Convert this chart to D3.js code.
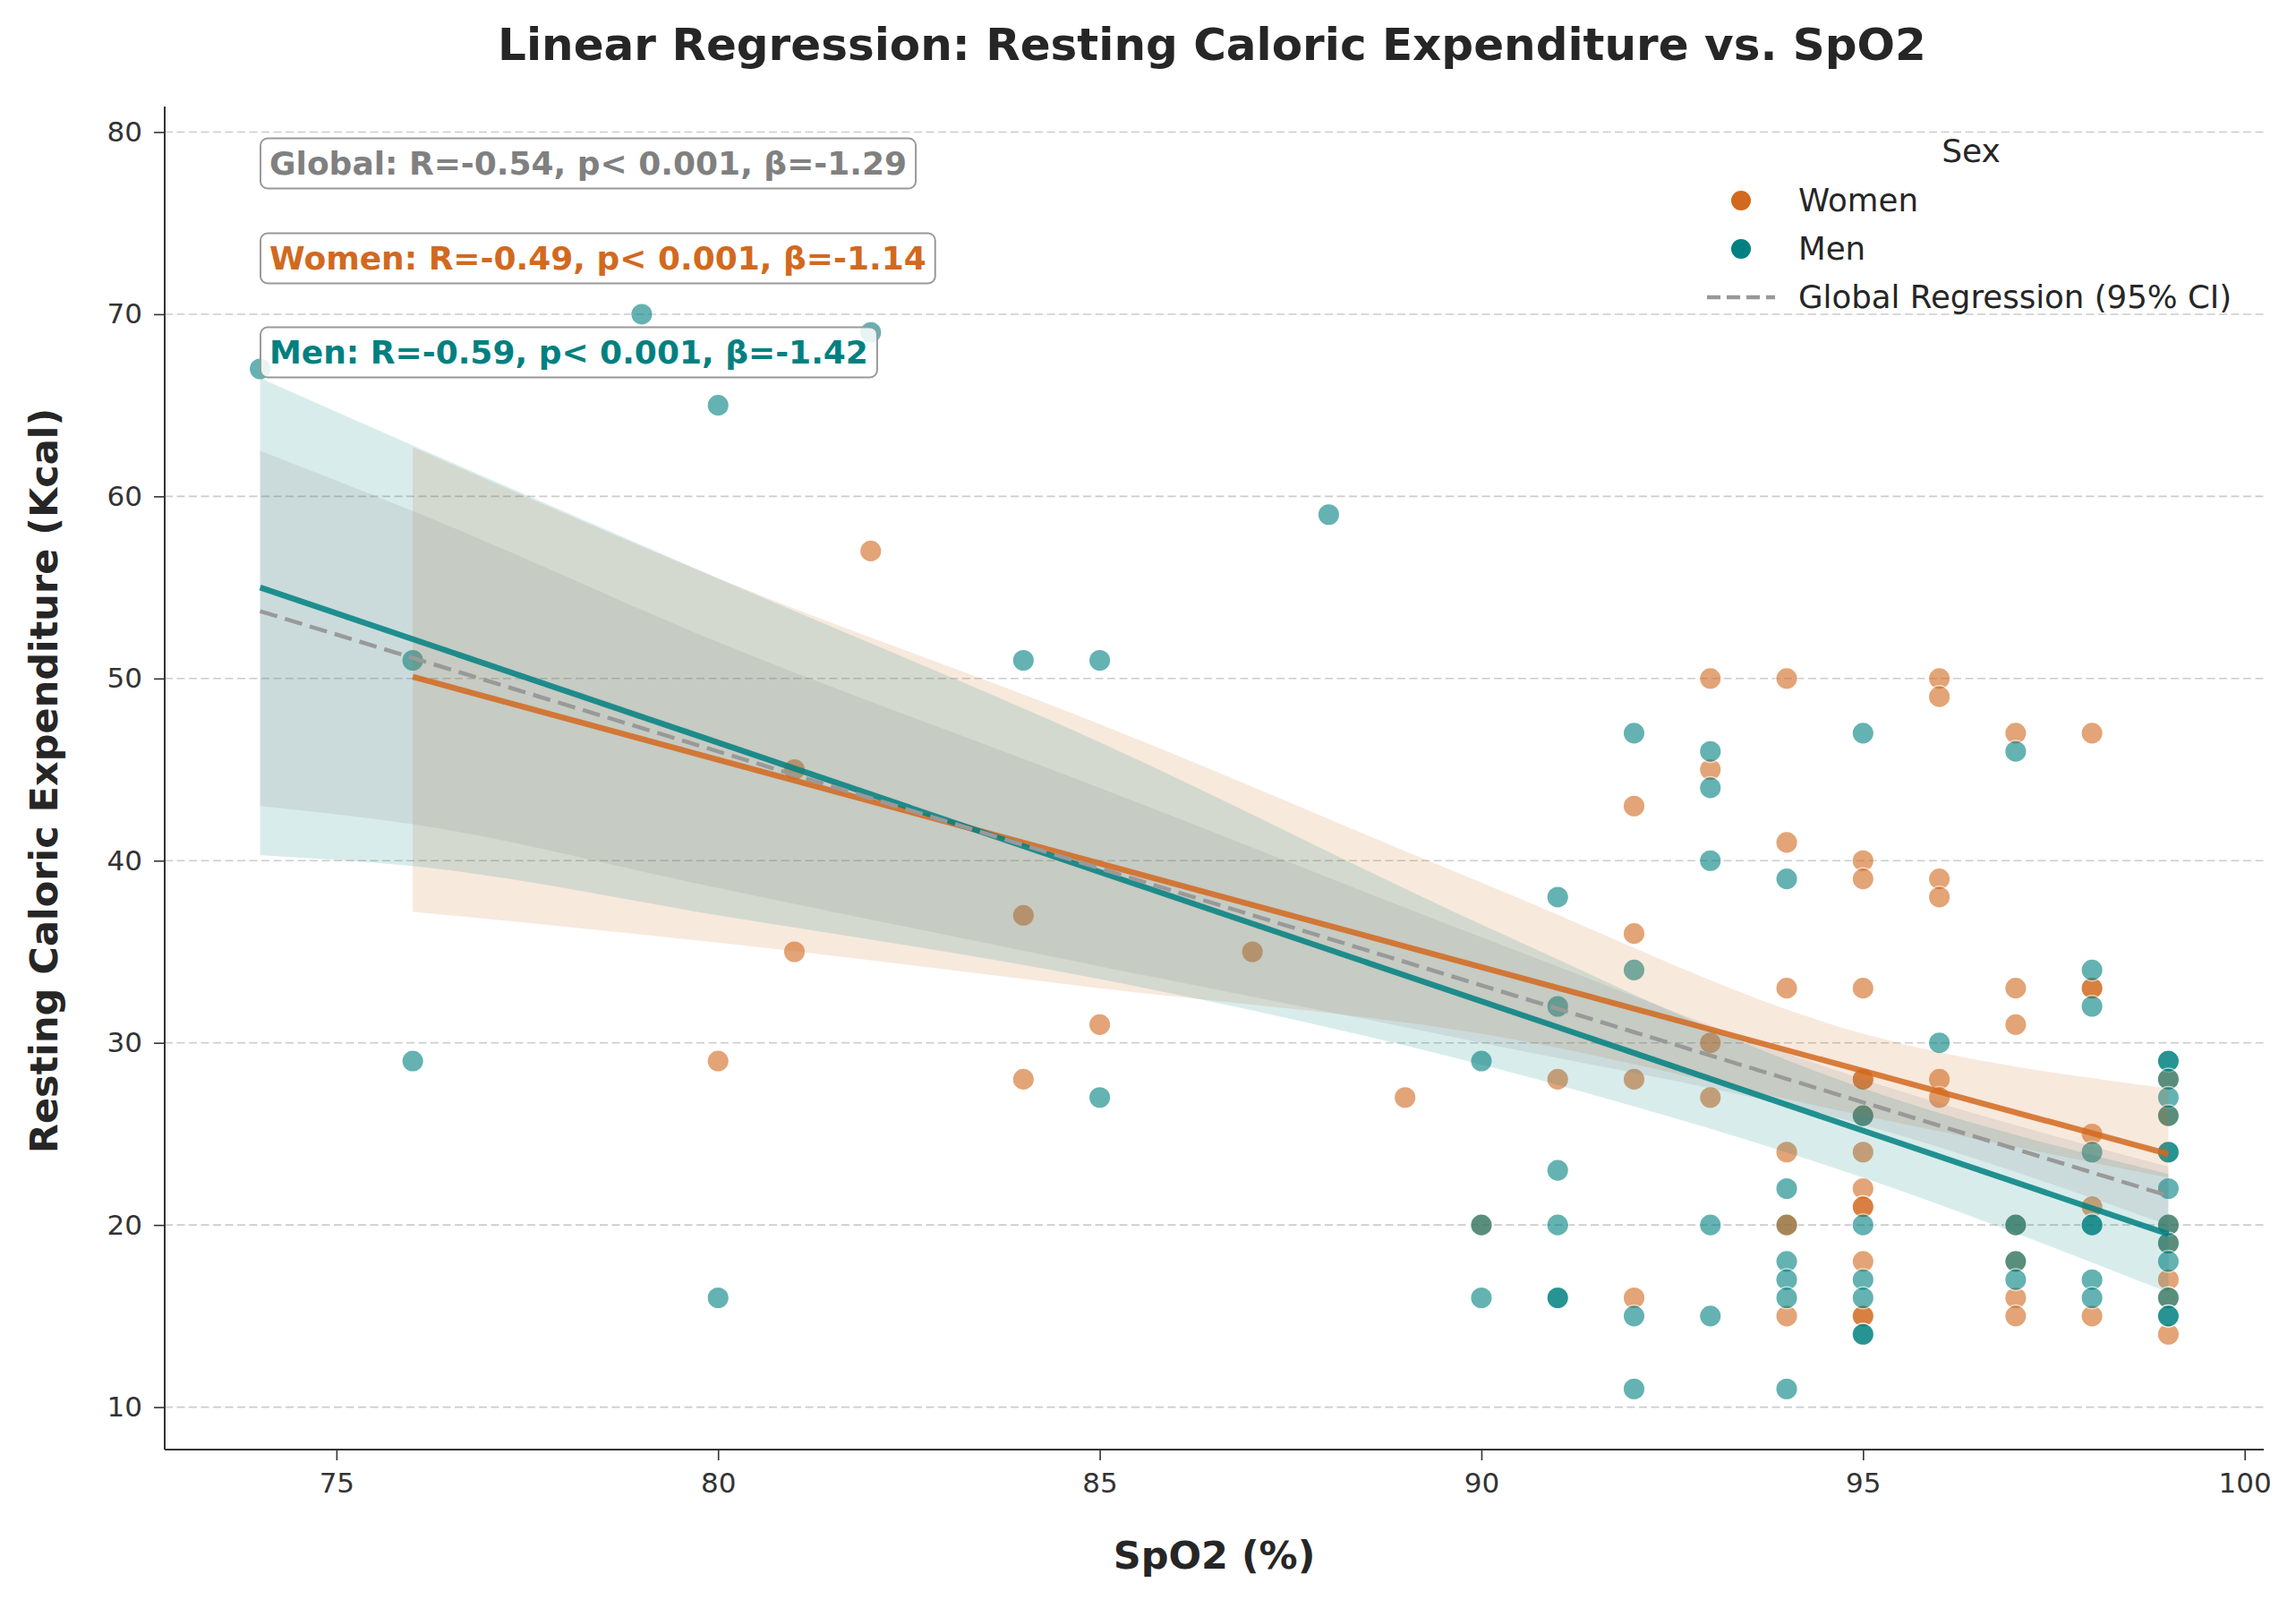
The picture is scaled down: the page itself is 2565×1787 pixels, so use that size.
<!DOCTYPE html>
<html>
<head>
<meta charset="utf-8">
<script src="https://cdn.jsdelivr.net/npm/d3@7"></script>
<style>
  body { margin: 0; background: #fff; }
  svg { display: block; font-family: "DejaVu Sans", sans-serif; }
</style>
</head>
<body>
<div id="chart"></div>
<script>
// ---- values ----
// scatter points [SpO2, kcal]
const womenPoints = [
  [80,29],
  [81,45],[81,35],
  [82,57],
  [84,37],[84,28],
  [85,31],
  [87,35],
  [89,27],
  [90,20],
  [91,28],
  [92,43],[92,36],[92,28],[92,16],
  [93,50],[93,45],[93,30],[93,27],
  [94,50],[94,41],[94,33],[94,24],[94,15],
  [95,40],[95,39],[95,33],[95,28],[95,28],[95,26],[95,24],[95,22],[95,21],[95,21],[95,18],[95,15],[95,15],
  [96,50],[96,49],[96,39],[96,38],[96,28],[96,27],
  [97,47],[97,33],[97,31],[97,20],[97,18],[97,16],[97,15],
  [98,47],[98,33],[98,33],[98,25],[98,21],[98,15],
  [99,28],[99,26],[99,20],[99,19],[99,17],[99,16],[99,14]
];
const menPoints = [
  [74,67],
  [76,51],[76,29],
  [79,70],
  [80,65],[80,16],
  [82,69],
  [84,51],
  [85,51],[85,27],
  [88,59],
  [90,29],[90,20],[90,16],
  [91,38],[91,32],[91,23],[91,20],[91,16],[91,16],
  [92,47],[92,34],[92,15],[92,11],
  [93,46],[93,44],[93,40],[93,20],[93,15],
  [94,39],[94,22],[94,20],[94,18],[94,17],[94,16],[94,11],
  [95,47],[95,26],[95,20],[95,17],[95,16],[95,14],[95,14],
  [96,30],
  [97,46],[97,20],[97,18],[97,17],
  [98,34],[98,32],[98,24],[98,20],[98,20],[98,17],[98,16],
  [99,29],[99,29],[99,28],[99,27],[99,26],[99,24],[99,24],[99,22],[99,20],[99,19],[99,18],[99,16],[99,15],[99,15]
];
// one woman drawn above the men (brownish overlap at 94/20)
const womenOnTop = [[94,20]];

// fitted lines (end points) and 95% CI bands
const womenFitX = [76, 99],  womenFitY = [50.1, 23.9];
const menFitX   = [74, 99],  menFitY   = [55.0, 19.5];
const globalFitX = [74, 99], globalFitY = [53.7, 21.6];

const womenBandX  = [76, 80, 85, 90, 95, 99];
const womenBandHi = [62.7, 55.5, 47.5, 38.8, 30.5, 27.5];
const womenBandLo = [37.2, 35.5, 33.0, 30.5, 26.0, 22.6];

const menBandX  = [74, 76, 80, 85, 90, 95, 99];
const menBandHi = [66.5, 62.8, 55.5, 46.5, 36.5, 27.5, 22.8];
const menBandLo = [40.3, 39.7, 37.0, 33.5, 28.8, 22.6, 16.3];

const globalBandX  = [74, 76, 80, 85, 90, 95, 99];
const globalBandHi = [62.5, 59.2, 52.0, 44.0, 35.8, 28.0, 23.2];
const globalBandLo = [43.0, 42.0, 38.5, 34.2, 30.0, 25.5, 20.0];

const xTicks = [75, 80, 85, 90, 95, 100];
const yTicks = [10, 20, 30, 40, 50, 60, 70, 80];

const statLabels = [
  "Global: R=-0.54, p< 0.001, β=-1.29",
  "Women: R=-0.49, p< 0.001, β=-1.14",
  "Men: R=-0.59, p< 0.001, β=-1.42"
];
const legendLabels = ["Women", "Men", "Global Regression (95% CI)"];

// colours
const cWomen = "#d2691e", cMen = "#008080", cGlobal = "#808080";

// ---- layout ----
const W = 2565, H = 1787;
const plot = {left: 184, right: 2529, top: 119, bottom: 1619};

const svg = d3.select("#chart").append("svg")
  .attr("width", W).attr("height", H);

const x = d3.scaleLinear().domain([72.75, 100.25]).range([plot.left, plot.right]);
const y = d3.scaleLinear().domain([7.67, 81.4]).range([plot.bottom, plot.top]);

// grid
svg.append("g").selectAll("line").data(yTicks).join("line")
  .attr("x1", plot.left).attr("x2", plot.right)
  .attr("y1", d => y(d)).attr("y2", d => y(d))
  .attr("stroke", "#cccccc").attr("stroke-width", 1.6)
  .attr("stroke-dasharray", "9,4.5");

// points
function drawPoints(pts, col) {
  svg.append("g").selectAll("circle").data(pts).join("circle")
    .attr("cx", d => x(d[0])).attr("cy", d => y(d[1]))
    .attr("r", 12.3)
    .attr("fill", col)
    .attr("stroke", "#fff").attr("stroke-width", 1.5)
    .attr("opacity", 0.6);
}
drawPoints(womenPoints, cWomen);
drawPoints(menPoints, cMen);
drawPoints(womenOnTop, cWomen);

// bands
function band(xs, lo, hi, col) {
  const rows = xs.map((v, i) => ({x: v, lo: lo[i], hi: hi[i]}));
  svg.append("path").datum(rows)
    .attr("fill", col).attr("fill-opacity", 0.15)
    .attr("d", d3.area().curve(d3.curveMonotoneX)
      .x(d => x(d.x)).y0(d => y(d.lo)).y1(d => y(d.hi)));
}
band(womenBandX, womenBandLo, womenBandHi, cWomen);
band(menBandX, menBandLo, menBandHi, cMen);
band(globalBandX, globalBandLo, globalBandHi, cGlobal);

// fit lines
function fit(xs, ys, col, w, dash, op) {
  svg.append("path").datum(xs.map((v, i) => [v, ys[i]]))
    .attr("fill", "none").attr("stroke", col)
    .attr("stroke-width", w).attr("stroke-opacity", op)
    .attr("stroke-dasharray", dash)
    .attr("d", d3.line().x(d => x(d[0])).y(d => y(d[1])));
}
fit(womenFitX, womenFitY, cWomen, 6.5, null, 0.85);
fit(menFitX, menFitY, cMen, 6.5, null, 0.85);
fit(globalFitX, globalFitY, "#999999", 4.5, "20,9", 1);

// axes
const xAxis = svg.append("g")
  .attr("transform", "translate(0," + plot.bottom + ")")
  .call(d3.axisBottom(x).tickValues(xTicks).tickSize(12).tickPadding(14));
const yAxis = svg.append("g")
  .attr("transform", "translate(" + plot.left + ",0)")
  .call(d3.axisLeft(y).tickValues(yTicks).tickSize(12).tickPadding(13));
[xAxis, yAxis].forEach(a => {
  a.select(".domain").attr("stroke", "#333").attr("stroke-width", 2);
  a.selectAll(".tick line").attr("stroke", "#333").attr("stroke-width", 1.6);
  a.selectAll(".tick text").attr("fill", "#333")
    .attr("font-size", 31).attr("font-family", "DejaVu Sans");
});
// make x domain line run the full width without end ticks
xAxis.select(".domain").attr("d", "M" + plot.left + ",0H" + plot.right);
yAxis.select(".domain").attr("d", "M0," + plot.top + "V" + plot.bottom);

// title and axis labels
svg.append("text")
  .attr("x", 1354).attr("y", 67)
  .attr("text-anchor", "middle")
  .attr("font-size", 50).attr("font-weight", "bold").attr("fill", "#262626")
  .text("Linear Regression: Resting Caloric Expenditure vs. SpO2");

svg.append("text")
  .attr("x", (plot.left + plot.right) / 2).attr("y", 1752)
  .attr("text-anchor", "middle")
  .attr("font-size", 43).attr("font-weight", "bold").attr("fill", "#262626")
  .text("SpO2 (%)");

svg.append("text")
  .attr("transform", "translate(64," + 872 + ") rotate(-90)")
  .attr("text-anchor", "middle")
  .attr("font-size", 43).attr("font-weight", "bold").attr("fill", "#262626")
  .text("Resting Caloric Expenditure (Kcal)");

// stats boxes
const statColors = [cGlobal, cWomen, cMen];
const statY = [195, 301, 406];
statLabels.forEach((t, i) => {
  const g = svg.append("g");
  const txt = g.append("text")
    .attr("x", 301).attr("y", statY[i])
    .attr("font-size", 36).attr("font-weight", "bold")
    .attr("fill", statColors[i])
    .text(t);
  const bb = txt.node().getBBox();
  g.insert("rect", "text")
    .attr("x", bb.x - 10).attr("y", bb.y + bb.height / 2 - 28)
    .attr("width", bb.width + 20).attr("height", 56)
    .attr("rx", 8).attr("ry", 8)
    .attr("fill", "#fff").attr("fill-opacity", 0.85)
    .attr("stroke", "#999").attr("stroke-width", 2);
});

// legend
const leg = svg.append("g");
leg.append("text")
  .attr("x", 2202).attr("y", 181)
  .attr("text-anchor", "middle")
  .attr("font-size", 36).attr("fill", "#262626")
  .text("Sex");
const legY = [224, 278, 332];
leg.append("circle").attr("cx", 1945).attr("cy", legY[0]).attr("r", 11).attr("fill", cWomen);
leg.append("circle").attr("cx", 1945).attr("cy", legY[1]).attr("r", 11).attr("fill", cMen);
leg.append("line")
  .attr("x1", 1907).attr("x2", 1983).attr("y1", legY[2]).attr("y2", legY[2])
  .attr("stroke", "#999").attr("stroke-width", 4.5).attr("stroke-dasharray", "15,7");
legendLabels.forEach((t, i) => {
  leg.append("text")
    .attr("x", 2009).attr("y", legY[i] + 12)
    .attr("font-size", 35.6).attr("fill", "#262626")
    .text(t);
});
</script>
</body>
</html>
